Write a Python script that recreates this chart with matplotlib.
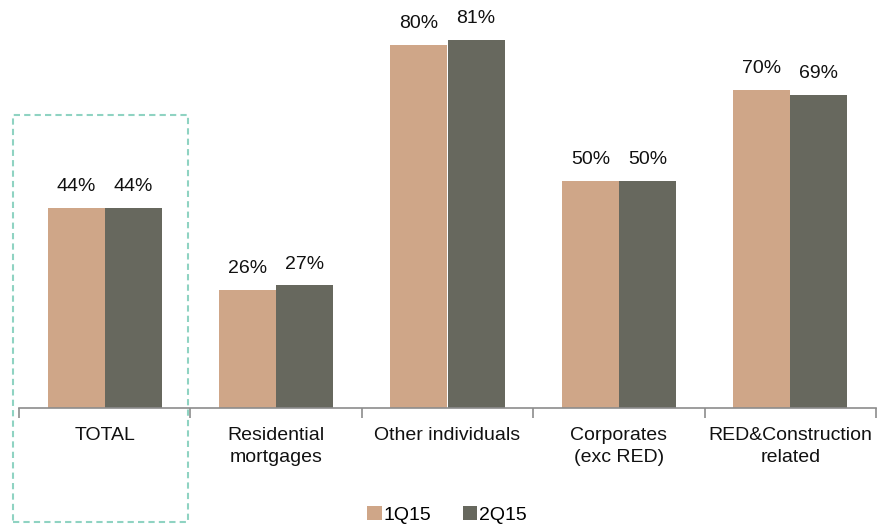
import matplotlib
matplotlib.use("Agg")
import matplotlib.pyplot as plt
import numpy as np
from matplotlib.patches import Rectangle

categorias = ["TOTAL", "Residential\nmortgages", "Other individuals",
              "Corporates\n(exc RED)", "RED&Construction\nrelated"]
serie_1q15 = [44, 26, 80, 50, 70]
serie_2q15 = [44, 27, 81, 50, 69]
rotulos = ["1Q15", "2Q15"]

plt.rcParams["font.family"] = ["Liberation Sans", "DejaVu Sans"]

W, H = 892, 530
FS = 14
fig = plt.figure(figsize=(W / 100, H / 100), dpi=100)
ax = fig.add_axes([19 / W, (H - 408) / H, (876 - 19) / W, 408 / H])

x = np.arange(len(categorias))
larg = 0.333
cores = ["#cfa688", "#67685e"]
b1 = ax.bar(x - larg / 2, serie_1q15, larg, color=cores[0], label=rotulos[0])
b2 = ax.bar(x + larg / 2, serie_2q15, larg, color=cores[1], label=rotulos[1])

for barras, vals in ((b1, serie_1q15), (b2, serie_2q15)):
    for b, v in zip(barras, vals):
        ax.text(b.get_x() + b.get_width() / 2, v + 2.8, f"{v}%",
                ha="center", va="bottom", fontsize=FS, color="#111111")

ax.set_xlim(-0.5, len(categorias) - 0.5)
ax.set_ylim(0, 89.8)
ax.set_yticks([])
for lado in ("top", "right", "left"):
    ax.spines[lado].set_visible(False)
ax.spines["bottom"].set_color("#8c8c8c")
ax.spines["bottom"].set_linewidth(1.2)

ax.set_xticks(np.arange(-0.5, len(categorias)))
ax.set_xticklabels([])
ax.tick_params(axis="x", direction="out", length=7, width=1.2, color="#8c8c8c")
for xi, nome in zip(x, categorias):
    ax.text(xi, -4.2, nome, ha="center", va="top", fontsize=FS,
            color="#111111", linespacing=1.4, clip_on=False)

fig.legend(handles=[b1, b2], labels=rotulos, loc="center",
           bbox_to_anchor=(447 / W, 1 - 515 / H), ncol=2, frameon=False,
           fontsize=FS, handlelength=0.75, handleheight=0.75,
           handletextpad=0.1, columnspacing=1.6)

fig.patches.append(Rectangle((13 / W, 1 - 522 / H), (188 - 13) / W, (522 - 115) / H,
                             transform=fig.transFigure, fill=False, edgecolor="#8fd3c2",
                             linestyle=(0, (3, 2)), linewidth=1.5))

fig.savefig("out.png", dpi=100)
